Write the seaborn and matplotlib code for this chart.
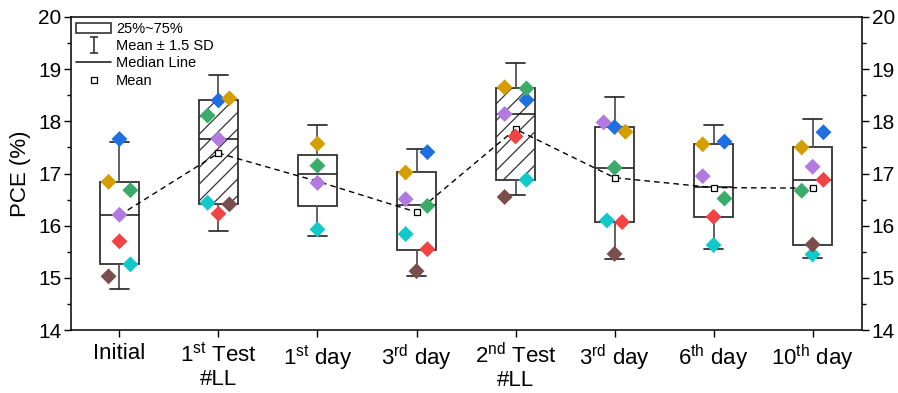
import seaborn as sns
import matplotlib.pyplot as plt
from matplotlib.lines import Line2D
from matplotlib.patches import Rectangle
from matplotlib.path import Path
import pandas as pd
import numpy as np

# categories
groups = ['Initial', r'1$^{\rm st}$ Test' + '\n#LL', r'1$^{\rm st}$ day', r'3$^{\rm rd}$ day',
          r'2$^{\rm nd}$ Test' + '\n#LL', r'3$^{\rm rd}$ day', r'6$^{\rm th}$ day', r'10$^{\rm th}$ day']

# box stats (mean +- 1.5 SD whiskers)
q1 = [15.26, 16.42, 16.37, 15.54, 16.88, 16.07, 16.17, 15.63]
med = [16.21, 17.66, 16.99, 16.39, 18.14, 17.11, 16.74, 16.88]
q3 = [16.84, 18.40, 17.36, 17.02, 18.63, 17.89, 17.56, 17.50]
whislo = [14.79, 15.90, 15.81, 15.04, 16.58, 15.36, 15.56, 15.39]
whishi = [17.60, 18.88, 17.92, 17.47, 19.12, 18.46, 17.92, 18.05]
means = [16.20, 17.39, 16.85, 16.26, 17.85, 16.92, 16.73, 16.72]
hatched = [False, True, False, False, True, False, False, False]

# individual devices, one list per colour (nan = missing)
nan = np.nan
dev_blue = [17.66, 18.40, nan, 17.41, 18.41, 17.89, 17.61, 17.79]
dev_gold = [16.84, 18.44, 17.57, 17.02, 18.65, 17.80, 17.56, 17.50]
dev_green = [16.68, 18.11, 17.15, 16.38, 18.63, 17.11, 16.52, 16.67]
dev_purple = [16.21, 17.66, 16.82, 16.51, 18.14, 17.98, 16.95, 17.13]
dev_red = [15.70, 16.23, nan, 15.55, 17.71, 16.07, 16.17, 16.88]
dev_cyan = [15.26, 16.44, 15.93, 15.84, 16.88, 16.10, 15.63, 15.45]
dev_brown = [15.03, 16.41, nan, 15.13, 16.55, 15.46, nan, 15.64]

# horizontal offset of each marker inside its box
off_blue = [0, 0, 0, 1, 1, 0, 1, 1]
off_gold = [-1, 1, 0, -1, -1, 1, -1, -1]
off_green = [1, -1, 0, 1, 1, 0, 1, -1]
off_purple = [0, 0, 0, -1, -1, -1, -1, 0]
off_red = [0, 0, 0, 1, 0, 0.7, 0, 1]
off_cyan = [1, -1, 0, -1, 1, -0.7, 0, 0]
off_brown = [-1, 1, 0, 0, -1, 0, 0, 0]

colors = {'blue': '#1f6fe0', 'gold': '#d49e00', 'green': '#3aab6b', 'purple': '#b27ae0',
          'red': '#f04444', 'cyan': '#10c9c9', 'brown': '#7b4e4e'}

rows = []
for name, vals, offs in [('blue', dev_blue, off_blue), ('gold', dev_gold, off_gold),
                         ('green', dev_green, off_green), ('purple', dev_purple, off_purple),
                         ('red', dev_red, off_red), ('cyan', dev_cyan, off_cyan),
                         ('brown', dev_brown, off_brown)]:
    for i, (v, o) in enumerate(zip(vals, offs)):
        if not np.isnan(v):
            rows.append({'x': i + 0.11 * o, 'pce': v, 'dev': name})
df = pd.DataFrame(rows)

sns.set_style('ticks')
plt.rcParams['font.family'] = ['Liberation Sans', 'DejaVu Sans']
plt.rcParams['mathtext.fontset'] = 'custom'
plt.rcParams['mathtext.rm'] = 'Liberation Sans'
plt.rcParams['hatch.linewidth'] = 0.9
for k in ['text.color', 'axes.labelcolor', 'xtick.color', 'ytick.color', 'axes.edgecolor']:
    plt.rcParams[k] = 'black'

fig = plt.figure(figsize=(8.98, 3.93), dpi=100)
ax = fig.add_axes([0.079, 0.160, 0.881, 0.797])

stats = []
for i in range(len(groups)):
    stats.append({'q1': q1[i], 'med': med[i], 'q3': q3[i], 'whislo': whislo[i],
                  'whishi': whishi[i], 'mean': means[i], 'fliers': []})
bp = ax.bxp(stats, positions=range(len(groups)), widths=0.4, showmeans=False,
            patch_artist=True, manage_ticks=False,
            boxprops=dict(facecolor='white', edgecolor='#333333', linewidth=1.3),
            whiskerprops=dict(color='#555555', linewidth=1.3),
            capprops=dict(color='#333333', linewidth=1.3),
            medianprops=dict(color='#222222', linewidth=1.2))
for b, h in zip(bp['boxes'], hatched):
    if h:
        b.set_hatch('//')
for c in bp['caps']:
    x0, x1 = c.get_xdata()
    xc = (x0 + x1) / 2
    c.set_xdata([xc - 0.1, xc + 0.1])

# mean line
mdf = pd.DataFrame({'x': range(len(groups)), 'mean': means})
sns.lineplot(data=mdf, x='x', y='mean', ax=ax, color='black', linestyle=(0, (4, 3)),
             linewidth=1.0, zorder=3)
ax.plot(range(len(groups)), means, 's', ms=4, mfc='white', mec='black', mew=0.9, zorder=4)

sns.scatterplot(data=df, x='x', y='pce', hue='dev', palette=colors, marker='D', s=66,
                linewidth=0, legend=False, ax=ax, zorder=5)

ax.set_xlim(-0.49, 7.5)
ax.set_ylim(14, 20)
ax.set_yticks(range(14, 21))
ax.set_yticks(np.arange(14.5, 20, 1), minor=True)
ax.set_xticks(range(len(groups)))
ax.set_xticklabels(groups, fontsize=16, linespacing=1.15)
ax.tick_params(axis='y', which='both', right=True, labelright=True, labelsize=15,
               direction='out', pad=2)
ax.tick_params(axis='y', which='major', length=5, width=1)
ax.tick_params(axis='y', which='minor', length=3, width=1)
ax.tick_params(axis='x', length=5, width=1, pad=4)
ax.set_xlabel('')
ax.set_ylabel('PCE (%)', fontsize=16, labelpad=5)
for s in ax.spines.values():
    s.set_linewidth(1.1)
    s.set_color('black')

cap_path = Path([(0, -1), (0, 1), (-0.55, 1), (0.55, 1), (-0.55, -1), (0.55, -1)],
                [Path.MOVETO, Path.LINETO, Path.MOVETO, Path.LINETO, Path.MOVETO, Path.LINETO])
handles = [Rectangle((0, 0), 1, 1, facecolor='white', edgecolor='#333333', linewidth=1.2),
           Line2D([], [], linestyle='none', marker=cap_path, markersize=11, color='#333333',
                  markeredgewidth=1.2, markerfacecolor='none'),
           Line2D([], [], color='#222222', linewidth=1.2),
           Line2D([], [], linestyle='none', marker='s', ms=4, mfc='white', mec='black', mew=0.9)]
labels = ['25%~75%', 'Mean \u00b1 1.5 SD', 'Median Line', 'Mean']
ax.legend(handles, labels, loc='upper left', frameon=False, fontsize=10.5,
          borderaxespad=0.25, borderpad=0.1, handlelength=2.4, handletextpad=0.35,
          labelspacing=0.22)

fig.savefig('out.png', dpi=100)
